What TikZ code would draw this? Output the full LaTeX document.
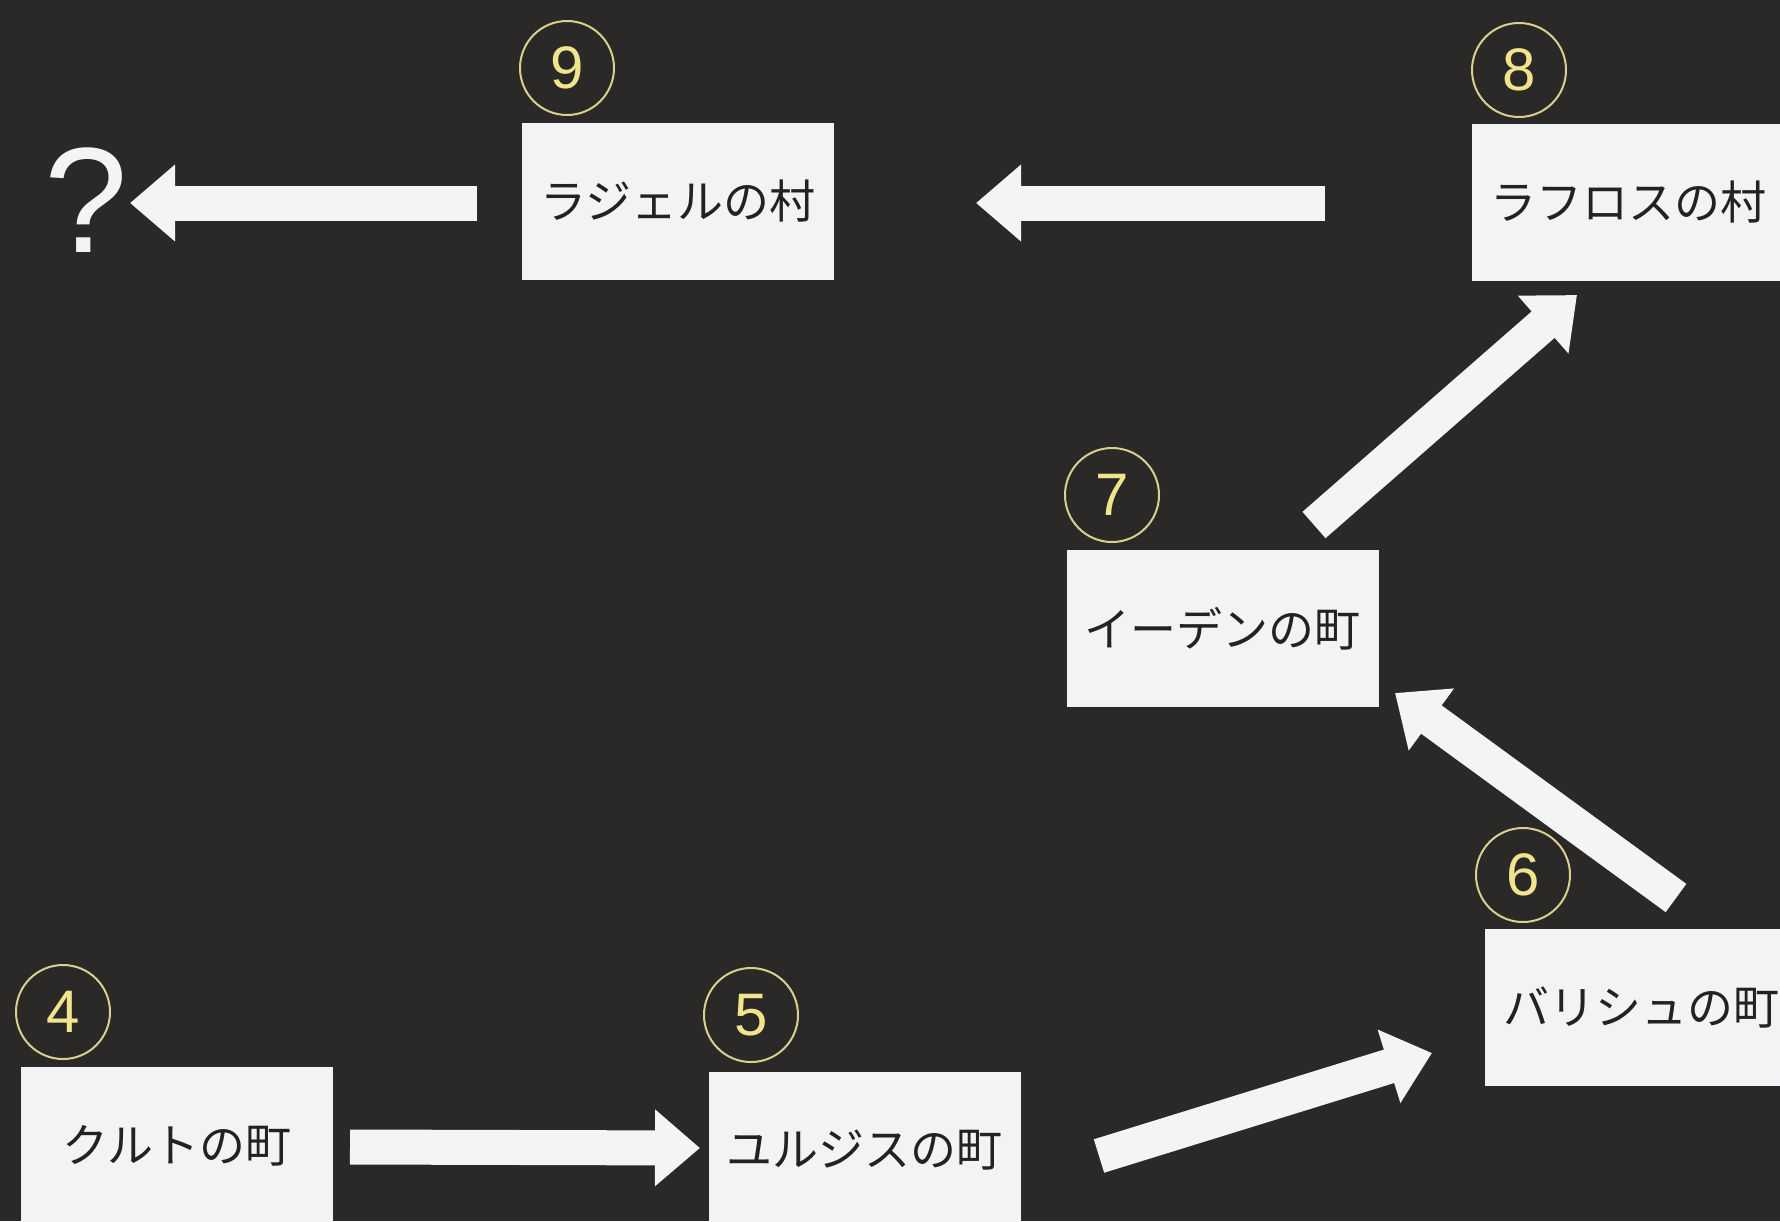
\documentclass[tikz,border=0pt]{standalone}
\usepackage{fontspec}
\setmainfont{Liberation Sans}
\newfontfamily\jp{Noto Sans CJK JP}
\usetikzlibrary{arrows.meta}
\definecolor{bg}{HTML}{2B2927}
\definecolor{boxfill}{HTML}{F1F3F5}
\definecolor{ink}{HTML}{222222}
\definecolor{ringcol}{HTML}{D9CF8E}
\definecolor{digitcol}{HTML}{F0E48C}
\definecolor{arrowcol}{HTML}{F2F4F6}
\begin{document}
\begin{tikzpicture}[x=1pt,y=-1pt,
  town/.style={fill=boxfill, minimum width=312pt, minimum height=157pt, inner sep=0pt, text=ink, font=\jp\fontsize{46}{51}\selectfont},
  ring/.style={circle, draw=ringcol, line width=2pt, minimum size=94pt, inner sep=0pt, text=digitcol, font=\fontsize{60}{62}\selectfont},
  bigarrow/.style={draw=arrowcol, line width=35pt, -{Triangle[width=74pt,length=45pt]}}]
\useasboundingbox (0,0) rectangle (1780,1221);
\clip (0,0) rectangle (1780,1221);
\fill[bg] (0,0) rectangle (1780,1221);

% towns
\node[town] (n9) at (678,201.5) {ラジェルの村};
\node[town] (n8) at (1628,202) {ラフロスの村};
\node[town] (n7) at (1222.5,628.5) {イーデンの町};
\node[town] (n6) at (1641,1007.5) {バリシュの町};
\node[town] (n5) at (864.5,1150.5) {ユルジスの町};
\node[town] (n4) at (177,1145.5) {クルトの町};

% numbers
\node[ring] (c9) at (567,68) {9};
\node[ring] (c8) at (1519,70) {8};
\node[ring] (c7) at (1112,495) {7};
\node[ring] (c6) at (1523,875) {6};
\node[ring] (c5) at (751,1015) {5};
\node[ring] (c4) at (63,1012) {4};

% question mark
\node[text=arrowcol, font=\fontsize{150}{150}\selectfont, inner sep=0pt] (q) at (86,200) {?};

% arrow end points
\coordinate (a1s) at (477,203);
\coordinate (a1e) at (130,203);
\coordinate (a2s) at (1325,203);
\coordinate (a2e) at (976,203);
\coordinate (a3s) at (350,1147);
\coordinate (a3e) at (700,1148);
\coordinate (a4s) at (1099,1156);
\coordinate (a4e) at (1432,1053);
\coordinate (a5s) at (1676,898);
\coordinate (a5e) at (1395,693);
\coordinate (a6s) at (1314,525);
\coordinate (a6e) at (1577,295);

\draw[bigarrow] (a1s) -- (a1e);
\draw[bigarrow] (a2s) -- (a2e);
\draw[bigarrow] (a3s) -- (a3e);
\draw[bigarrow] (a4s) -- (a4e);
\draw[bigarrow] (a5s) -- (a5e);
\draw[bigarrow] (a6s) -- (a6e);
\end{tikzpicture}
\end{document}
